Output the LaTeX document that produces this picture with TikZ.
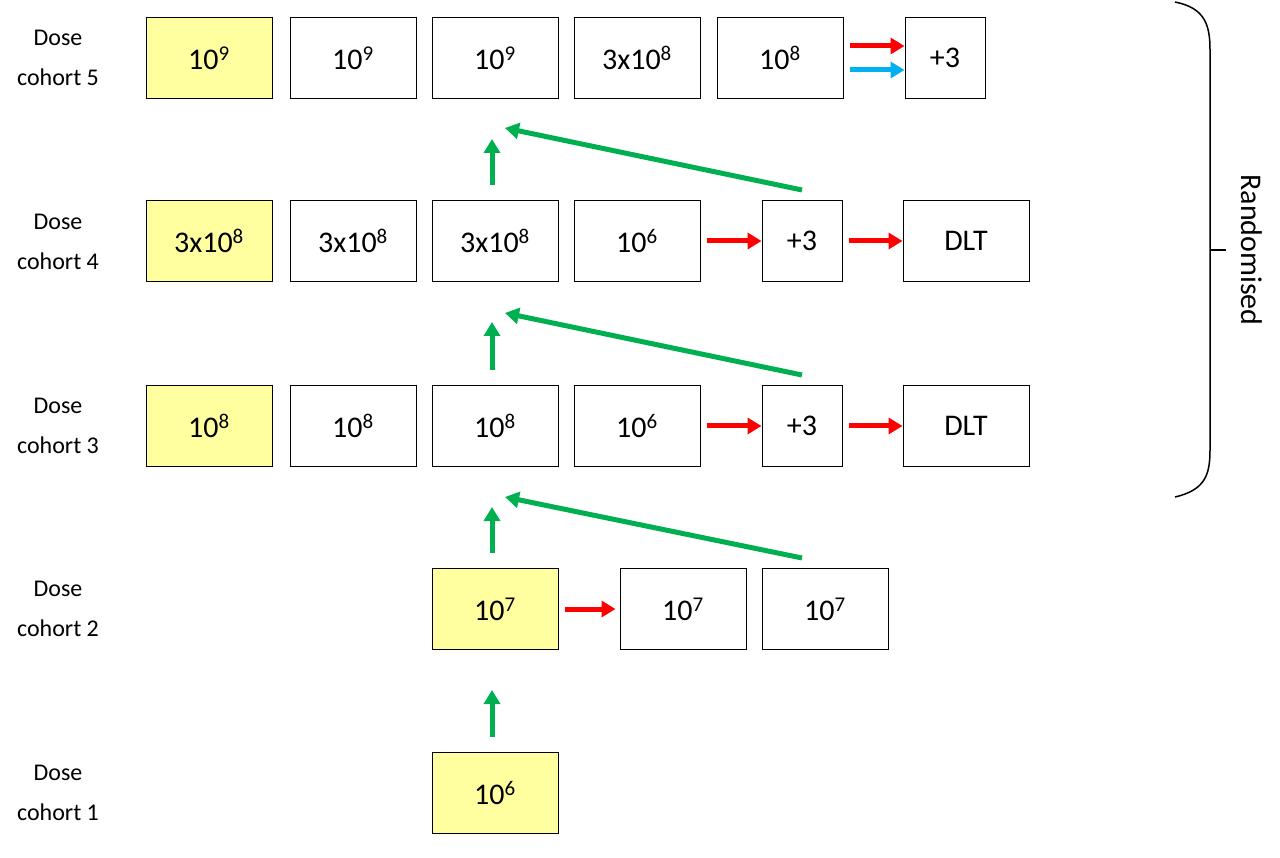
\documentclass[tikz,border=0pt]{standalone}
\usepackage{fontspec}
\setmainfont{Carlito}
\usetikzlibrary{arrows.meta}
\definecolor{yel}{RGB}{255,255,160}
\definecolor{grn}{RGB}{0,176,80}
\definecolor{rd}{RGB}{255,0,0}
\definecolor{bl}{RGB}{0,176,240}
\newcommand{\sps}[1]{\textsuperscript{#1}}
\begin{document}
\begin{tikzpicture}[x=1pt,y=-1pt,
 bx/.style={draw,line width=1pt,minimum width=126pt,minimum height=81pt,font=\fontsize{30}{32}\selectfont,anchor=center,inner sep=0pt},
 sm/.style={bx,minimum width=80pt},
 yb/.style={fill=yel},
 lab/.style={font=\fontsize{24}{40}\selectfont,align=center},
 ar/.style={line width=5pt,-{Triangle[length=14pt,width=16pt]}}]
\useasboundingbox (0,0) rectangle (1280,858);
% labels
\node[lab] (l5) at (58,58) {Dose\\cohort 5};
\node[lab] (l4) at (58,242) {Dose\\cohort 4};
\node[lab] (l3) at (58,426) {Dose\\cohort 3};
\node[lab] (l2) at (58,609) {Dose\\cohort 2};
\node[lab] (l1) at (58,793) {Dose\\cohort 1};
% row 5
\node[bx,yb] (a5) at (209,58) {10\sps{9}};
\node[bx] (b5) at (353,58) {10\sps{9}};
\node[bx] (c5) at (495,58) {10\sps{9}};
\node[bx] (d5) at (637,58) {3x10\sps{8}};
\node[bx] (e5) at (780,58) {10\sps{8}};
\node[sm] (f5) at (945,58) {+3};
% row 4
\node[bx,yb] (a4) at (209,241) {3x10\sps{8}};
\node[bx] (b4) at (353,241) {3x10\sps{8}};
\node[bx] (c4) at (495,241) {3x10\sps{8}};
\node[bx] (d4) at (637,241) {10\sps{6}};
\node[sm] (f4) at (802,241) {+3};
\node[bx] (g4) at (966,241) {DLT};
% row 3
\node[bx,yb] (a3) at (209,426) {10\sps{8}};
\node[bx] (b3) at (353,426) {10\sps{8}};
\node[bx] (c3) at (495,426) {10\sps{8}};
\node[bx] (d3) at (637,426) {10\sps{6}};
\node[sm] (f3) at (802,426) {+3};
\node[bx] (g3) at (966,426) {DLT};
% row 2
\node[bx,yb] (c2) at (495,609) {10\sps{7}};
\node[bx] (d2) at (683,609) {10\sps{7}};
\node[bx] (e2) at (825,609) {10\sps{7}};
% row 1
\node[bx,yb] (c1) at (495,793) {10\sps{6}};
% red/blue arrows
\draw[ar,rd] ([xshift=6pt,yshift=12pt]e5.east) -- ([yshift=12pt]f5.west);
\draw[ar,bl] ([xshift=6pt,yshift=-12pt]e5.east) -- ([yshift=-12pt]f5.west);
\draw[ar,rd] ([xshift=6pt]d4.east) -- (f4.west);
\draw[ar,rd] ([xshift=6pt]f4.east) -- (g4.west);
\draw[ar,rd] ([xshift=6pt]d3.east) -- (f3.west);
\draw[ar,rd] ([xshift=6pt]f3.east) -- (g3.west);
\draw[ar,rd] ([xshift=6pt]c2.east) -- ([xshift=-4pt]d2.west);
% green arrows
\draw[ar,grn] ([xshift=-3pt,yshift=15pt]c4.north) -- ([xshift=-3pt,yshift=-40pt]c5.south);
\draw[ar,grn] ([xshift=-3pt,yshift=15pt]c3.north) -- ([xshift=-3pt,yshift=-40pt]c4.south);
\draw[ar,grn] ([xshift=-3pt,yshift=15pt]c2.north) -- ([xshift=-3pt,yshift=-40pt]c3.south);
\draw[ar,grn] ([xshift=-3pt,yshift=15pt]c1.north) -- ([xshift=-3pt,yshift=-40pt]c2.south);
\draw[ar,grn] ([yshift=10pt]f4.north) -- (505,128);
\draw[ar,grn] ([yshift=10pt]f3.north) -- (505,313);
\draw[ar,grn] ([yshift=10pt]e2.north -| f3.north) -- (505,497);
% brace
\coordinate (bt) at (1175,2);
\coordinate (bb) at (1175,497);
\draw[line width=1.5pt] (bt) .. controls (1205,8) and (1210,25) .. (1210,50) -- (1210,450) .. controls (1210,475) and (1205,490) .. (bb);
\draw[line width=1.5pt] (1210,250) -- (1226,250);
\node[font=\fontsize{30}{32}\selectfont,rotate=-90] (rand) at (1252,250) {Randomised};
\end{tikzpicture}
\end{document}
